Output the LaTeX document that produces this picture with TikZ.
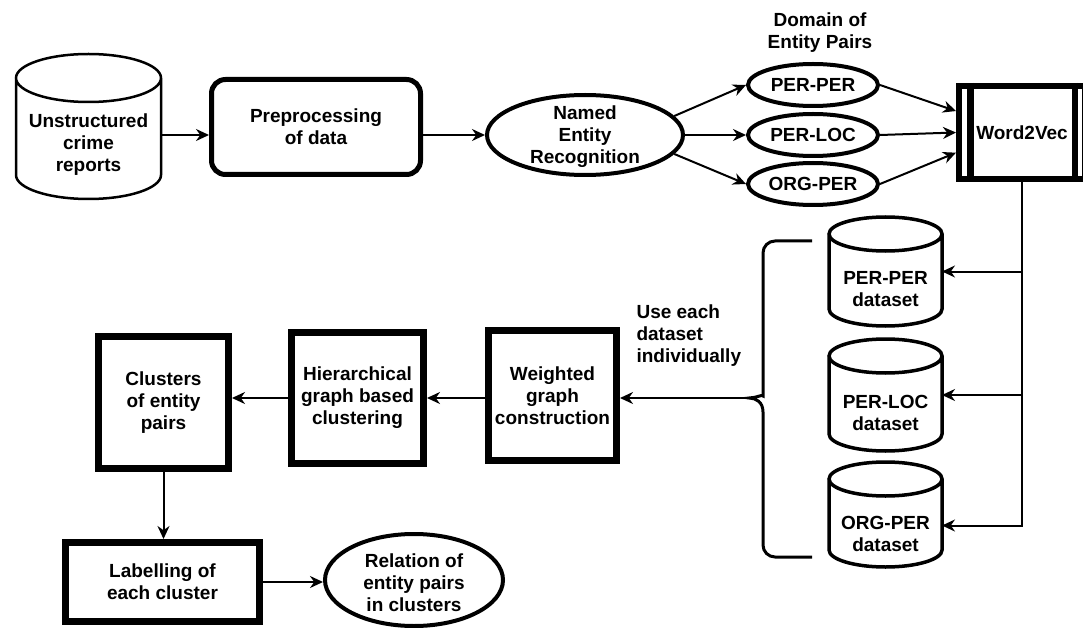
\documentclass[tikz,border=0pt]{standalone}
\usepackage{fontspec}
\setmainfont{Liberation Sans}
\usetikzlibrary{arrows.meta,shapes.geometric,calc}

% cylinder outline drawn on the border of a (borderless) node
\newcommand\drum[3][]{% #2 node name, #3 half-height of the end caps
  \draw[drumline,#1] let \p1=(#2.north west), \p2=(#2.south east), \n1={(\x2-\x1)/2} in
    (\x1,\y1-#3pt) -- (\x1,\y2+#3pt)
    arc[start angle=180,end angle=360,x radius=\n1,y radius=#3pt]
    -- (\x2,\y1-#3pt)
    arc[start angle=0,end angle=360,x radius=\n1,y radius=#3pt];
}

\tikzset{
  txt/.style={font=\fontsize{19}{22}\selectfont\bfseries, align=center, text=black},
  arr/.style={line width=2pt, -{Stealth[length=13pt,width=12pt]}},
  heavybox/.style={draw, line width=7pt, rectangle, txt},
  oval/.style={draw, ellipse, line width=4pt, inner sep=0pt, txt},
  drumnode/.style={rectangle, draw=none, outer sep=0pt, inner sep=0pt},
  drumline/.style={line width=3.5pt},
  brace/.style={line width=3pt},
}

\begin{document}
\begin{tikzpicture}[x=1pt,y=-1pt]
\useasboundingbox (0,0) rectangle (1083,628);

% ---- top row -------------------------------------------------------
\node[drumnode, minimum width=145pt, minimum height=145pt,
      label={[txt,yshift=-18pt]center:{Unstructured\\crime\\reports}}] (rep) at (88.5,126.5) {};
\drum[line width=2.5pt]{rep}{24}

\node[draw, rectangle, rounded corners=14pt, line width=5pt, txt,
      minimum width=209pt, minimum height=95pt] (prep) at (316,127) {Preprocessing\\of data};

\node[oval, minimum width=196pt, minimum height=80pt,
      label={[txt,yshift=-2pt]center:{Named\\Entity\\Recognition}}] (ner) at (585,135) {};

\node[txt] (dom) at (820,33) {Domain of\\Entity Pairs};
\node[oval, minimum width=130pt, minimum height=42pt] (pp) at (813,85) {PER-PER};
\node[oval, minimum width=130pt, minimum height=42pt] (pl) at (813,135) {PER-LOC};
\node[oval, minimum width=130pt, minimum height=42pt] (op) at (813,184) {ORG-PER};

\node[draw, rectangle, line width=6pt, txt, minimum width=126pt, minimum height=93pt]
      (w2v) at (1022,132.5) {Word2Vec};
\draw[line width=7pt] ([xshift=14.5pt]w2v.north west) -- ([xshift=14.5pt]w2v.south west);
\draw[line width=6pt] ([xshift=-13pt]w2v.north east) -- ([xshift=-13pt]w2v.south east);

\draw[arr] (rep.east |- ner) -- (prep.west |- ner);
\draw[arr] (prep.east |- ner) -- (ner.west);
\draw[arr] (ner.12) -- (pp.west);
\draw[arr] (ner.east) -- (pl.west);
\draw[arr] (ner.-12) -- (op.west);
\draw[arr] (pp.east) -- (w2v.162);
\draw[arr] (pl.east) -- (w2v.west);
\draw[arr] (op.east) -- (w2v.197);

% ---- datasets ------------------------------------------------------
\node[drumnode, minimum width=113pt, minimum height=109pt,
      label={[txt,yshift=-18pt]center:{PER-PER\\dataset}}] (d1) at (885.5,271.5) {};
\node[drumnode, minimum width=113pt, minimum height=112pt,
      label={[txt,yshift=-18pt]center:{PER-LOC\\dataset}}] (d2) at (885.5,395) {};
\node[drumnode, minimum width=113pt, minimum height=105pt,
      label={[txt,yshift=-19pt]center:{ORG-PER\\dataset}}] (d3) at (885.5,514.5) {};
\drum{d1}{17}
\drum{d2}{17}
\drum{d3}{17}

\draw[arr] (w2v.south) |- ([yshift=-11pt]d3.east);
\draw[arr] (w2v.south |- d1.east) -- (d1.east);
\draw[arr] (w2v.south |- d2.east) -- (d2.east);

% brace grouping the datasets
\coordinate (brtip) at (749,398);
\draw[brace] (812,241) [rounded corners=12pt] -| (763,384) [sharp corners]
  .. controls (763,394) and (756,398) .. (brtip)
  .. controls (756,398) and (763,402) .. (763,412)
  [rounded corners=12pt] |- (812,557);

\node[txt, align=left, anchor=west] (use) at (633,336) {Use each\\dataset\\individually};

% ---- middle row ----------------------------------------------------
\node[heavybox, minimum width=128pt, minimum height=130pt] (wgc) at (552.5,395.5) {Weighted\\graph\\construction};
\node[heavybox, minimum width=132pt, minimum height=131pt] (hgc) at (357.5,398) {Hierarchical\\graph based\\clustering};
\node[heavybox, minimum width=130pt, minimum height=132pt] (cep) at (163.5,402.5) {Clusters\\of entity\\pairs};

\draw[arr] (brtip) -- (brtip -| wgc.east);
\draw[arr] (wgc.west |- brtip) -- (hgc.east |- brtip);
\draw[arr] (hgc.west |- brtip) -- (cep.east |- brtip);

% ---- bottom row ----------------------------------------------------
\node[heavybox, minimum width=194pt, minimum height=79pt] (lab) at (162.5,582) {Labelling of\\each cluster};
\node[oval, minimum width=178pt, minimum height=92pt,
      label={[txt,yshift=-3pt]center:{Relation of\\entity pairs\\in clusters}}] (rel) at (414,580) {};

\draw[arr] (cep.south) -- (cep.south |- lab.north);
\draw[arr] (lab.east) -- (lab.east -| rel.west);
\end{tikzpicture}
\end{document}
